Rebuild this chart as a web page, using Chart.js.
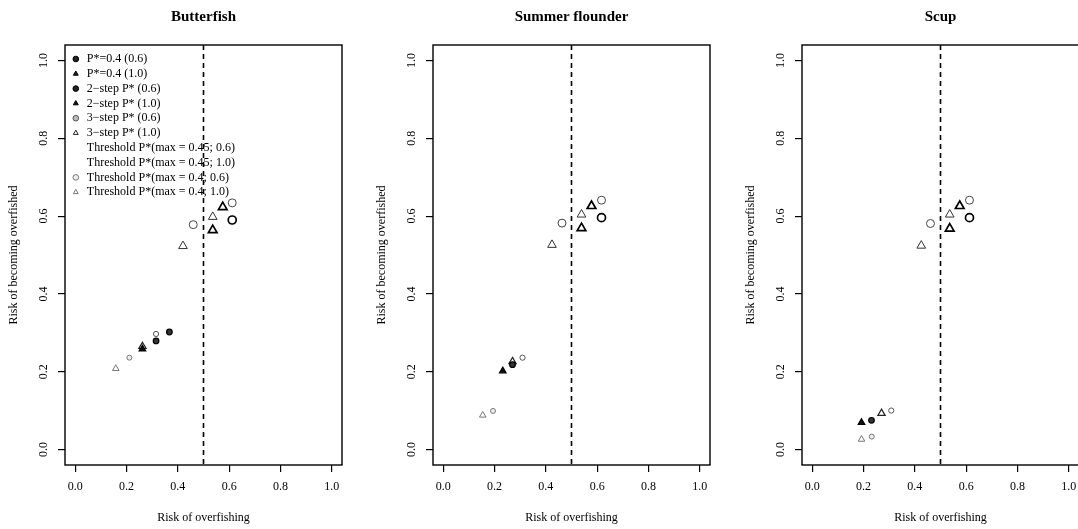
<!DOCTYPE html>
<html>
<head>
<meta charset="utf-8">
<script src="https://cdn.jsdelivr.net/npm/chart.js@4"></script>
<style>
  html, body { margin: 0; padding: 0; background: #fff; }
  #wrap { position: relative; width: 1078px; height: 529px; overflow: hidden; background: #fff; }
  #wrap canvas { position: absolute; top: 0; }
</style>
</head>
<body>
<div id="wrap">
  <canvas id="panel0" width="368" height="529" style="left:0px"></canvas>
  <canvas id="panel1" width="368" height="529" style="left:368px"></canvas>
  <canvas id="panel2" width="368" height="529" style="left:737px"></canvas>
</div>
<script>
// axis ticks
const xTicks = [0, 0.2, 0.4, 0.6, 0.8, 1.0];
const yTicks = [0, 0.2, 0.4, 0.6, 0.8, 1.0];
const threshold = 0.5;

const species = ['Butterfish', 'Summer flounder', 'Scup'];
const seriesLabels = [
    'P*=0.4 (0.6)',
    'P*=0.4 (1.0)',
    '2\u2212step P* (0.6)',
    '2\u2212step P* (1.0)',
    '3\u2212step P* (0.6)',
    '3\u2212step P* (1.0)',
    'Threshold P*(max = 0.45; 0.6)',
    'Threshold P*(max = 0.45; 1.0)',
    'Threshold P*(max = 0.4; 0.6)',
    'Threshold P*(max = 0.4; 1.0)'
];

// risk of overfishing (x) / risk of becoming overfished (y), one list per series
const butterfishX = [[0.612], [0.575, 0.536], [0.315, 0.367], [0.262], [0.315], [0.262], [0.612, 0.460], [0.536, 0.420], [0.211], [0.158]];
const butterfishY = [[0.590], [0.623, 0.564], [0.279, 0.302], [0.258], [0.297], [0.265], [0.634, 0.578], [0.598, 0.523], [0.236], [0.208]];

const flounderX = [[0.617], [0.578, 0.539], [0.270], [0.232], [0.309], [0.270], [0.617, 0.463], [0.539, 0.424], [0.194], [0.154]];
const flounderY = [[0.596], [0.626, 0.569], [0.218], [0.202], [0.236], [0.226], [0.641, 0.582], [0.604, 0.526], [0.099], [0.088]];

const scupX = [[0.613], [0.575, 0.536], [0.231], [0.192], [0.308], [0.270], [0.613, 0.461], [0.536, 0.425], [0.232], [0.192]];
const scupY = [[0.596], [0.626, 0.568], [0.075], [0.069], [0.100], [0.093], [0.641, 0.581], [0.604, 0.524], [0.033], [0.026]];

const panelX = [butterfishX, flounderX, scupX];
const panelY = [butterfishY, flounderY, scupY];

// marker look for each series
const markerStyles = [
    { pointStyle: 'circle',   radius: 4,   borderColor: '#000', backgroundColor: '#fff', borderWidth: 1.7, legendFill: '#222' },
    { pointStyle: 'triangle', radius: 5,   borderColor: '#000', backgroundColor: '#fff', borderWidth: 1.7, legendFill: '#222' },
    { pointStyle: 'circle',   radius: 2.8, borderColor: '#000', backgroundColor: '#333', borderWidth: 1.2, legendFill: '#222' },
    { pointStyle: 'triangle', radius: 3.8, borderColor: '#000', backgroundColor: '#111', borderWidth: 1.2, legendFill: '#111' },
    { pointStyle: 'circle',   radius: 2.6, borderColor: '#555', backgroundColor: '#fff', borderWidth: 1,   legendFill: '#bbb' },
    { pointStyle: 'triangle', radius: 4.2, borderColor: '#222', backgroundColor: 'rgba(0,0,0,0)', borderWidth: 1.2, legendFill: '#fff' },
    { pointStyle: 'circle',   radius: 4,   borderColor: '#444', backgroundColor: '#fff', borderWidth: 1,   legendFill: null },
    { pointStyle: 'triangle', radius: 5,   borderColor: '#333', backgroundColor: 'rgba(0,0,0,0)', borderWidth: 1, legendFill: null },
    { pointStyle: 'circle',   radius: 2.5, borderColor: '#777', backgroundColor: '#eee', borderWidth: 1,   legendFill: '#eee' },
    { pointStyle: 'triangle', radius: 3.8, borderColor: '#777', backgroundColor: 'rgba(0,0,0,0)', borderWidth: 1, legendFill: '#fff' }
];

Chart.defaults.font.family = "'Liberation Serif', 'DejaVu Serif', serif";
Chart.defaults.color = '#000';

// dashed reference line + plot box
const framePlugin = {
    id: 'frame',
    beforeDatasetsDraw(chart) {
        const { ctx, chartArea } = chart;
        const px = chart.scales.x.getPixelForValue(threshold);
        ctx.save();
        ctx.strokeStyle = '#000';
        ctx.lineWidth = 1.6;
        ctx.setLineDash([5, 4]);
        ctx.beginPath();
        ctx.moveTo(px, chartArea.top);
        ctx.lineTo(px, chartArea.bottom);
        ctx.stroke();
        ctx.restore();
    },
    afterDraw(chart) {
        const { ctx, chartArea } = chart;
        ctx.save();
        ctx.strokeStyle = '#000';
        ctx.lineWidth = 1.4;
        ctx.strokeRect(chartArea.left, chartArea.top, chartArea.right - chartArea.left, chartArea.bottom - chartArea.top);
        ctx.restore();
    },
    afterLayout(chart) {
        // legend inside the plot box, top-left corner
        if (chart.legend && chart.options.plugins.legend.display) {
            chart.legend.left = chart.chartArea.left + 3;
            chart.legend.top = chart.chartArea.top + 5.2;
        }
    }
};

species.forEach(function(name, p) {
    const datasets = seriesLabels.map(function(label, s) {
        const st = markerStyles[s];
        return {
            label: label,
            data: panelX[p][s].map((x, i) => ({ x: x, y: panelY[p][s][i] })),
            pointStyle: st.pointStyle,
            pointRadius: st.radius,
            pointHoverRadius: st.radius,
            borderColor: st.borderColor,
            backgroundColor: st.backgroundColor,
            borderWidth: st.borderWidth
        };
    });

    new Chart(document.getElementById('panel' + p), {
        type: 'scatter',
        data: { datasets: datasets },
        options: {
            responsive: false,
            animation: false,
            events: [],
            layout: { padding: { left: 0, right: 26, top: 0, bottom: 0 } },
            scales: {
                x: {
                    type: 'linear',
                    min: -0.04,
                    max: 1.04,
                    afterBuildTicks: s => { s.ticks = xTicks.map(v => ({ value: v })); },
                    afterFit: s => { s.height = 64; },
                    grid: { drawOnChartArea: false, drawTicks: true, tickLength: 7, color: '#000', lineWidth: 1.2 },
                    border: { display: false },
                    ticks: {
                        padding: 8,
                        maxRotation: 0,
                        font: { size: 12 },
                        color: '#000',
                        callback: v => v.toFixed(1)
                    },
                    title: {
                        display: true,
                        text: 'Risk of overfishing',
                        font: { size: 12 },
                        color: '#000',
                        padding: { top: 0, bottom: 4 }
                    }
                },
                y: {
                    type: 'linear',
                    min: -0.04,
                    max: 1.04,
                    afterBuildTicks: s => { s.ticks = yTicks.map(v => ({ value: v })); },
                    afterFit: s => { s.width = 65; },
                    grid: { drawOnChartArea: false, drawTicks: true, tickLength: 7, color: '#000', lineWidth: 1.2 },
                    border: { display: false },
                    ticks: {
                        padding: 7,
                        minRotation: 90,
                        maxRotation: 90,
                        crossAlign: 'center',
                        font: { size: 12 },
                        color: '#000',
                        callback: v => v.toFixed(1)
                    },
                    title: {
                        display: true,
                        text: 'Risk of becoming overfished',
                        font: { size: 12 },
                        color: '#000',
                        padding: { top: 7, bottom: 0 }
                    }
                }
            },
            plugins: {
                title: {
                    display: true,
                    text: name,
                    fullSize: false,
                    font: { size: 15, weight: 'bold' },
                    color: '#000',
                    padding: { top: 8.5, bottom: 18.5 }
                },
                legend: {
                    display: p === 0,
                    position: 'chartArea',
                    align: 'start',
                    labels: {
                        usePointStyle: true,
                        boxWidth: 10,
                        boxHeight: 4,
                        padding: 2.8,
                        font: { size: 12 },
                        color: '#000',
                        generateLabels: function(chart) {
                            return chart.data.datasets.map(function(ds, i) {
                                const st = markerStyles[i];
                                const blank = st.legendFill === null;
                                return {
                                    text: ds.label,
                                    datasetIndex: i,
                                    hidden: false,
                                    pointStyle: st.pointStyle,
                                    fillStyle: blank ? 'rgba(0,0,0,0)' : st.legendFill,
                                    strokeStyle: blank ? 'rgba(0,0,0,0)' : st.borderColor,
                                    lineWidth: 1,
                                    fontColor: '#000'
                                };
                            });
                        }
                    }
                },
                tooltip: { enabled: false }
            }
        },
        plugins: [framePlugin]
    });
});
</script>
</body>
</html>
